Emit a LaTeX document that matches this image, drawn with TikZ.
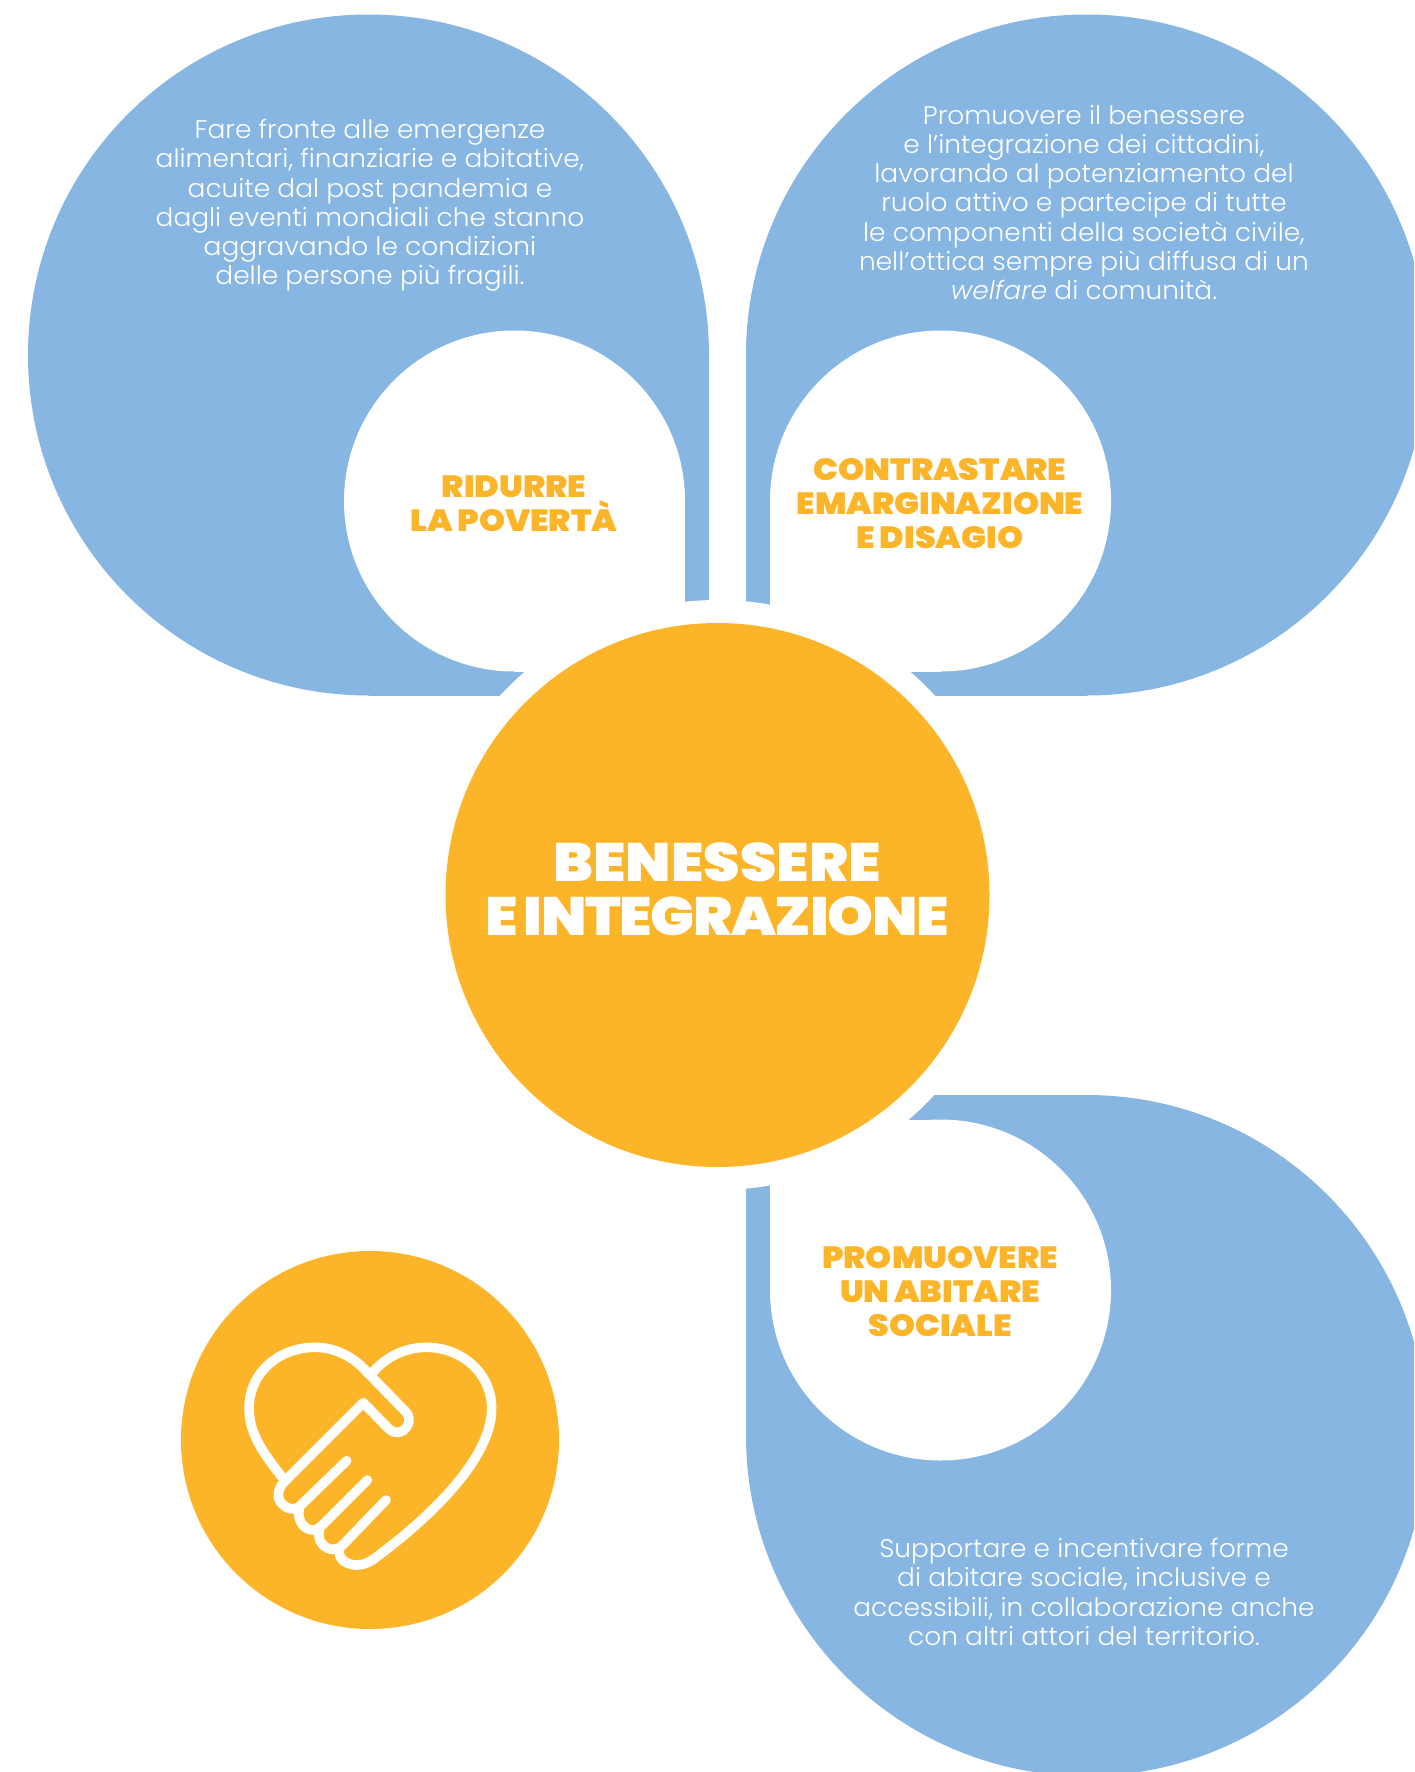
\documentclass[tikz,border=0pt]{standalone}
\usepackage{fontspec}
\setmainfont{Poppins}
\newfontfamily\bodyf[ItalicFont={Poppins Light Italic},FakeStretch=1.035]{Poppins Light}
\newfontfamily\headf[FakeStretch=1.08,WordSpace=0.8]{Poppins Black}
\newfontfamily\headtight[FakeStretch=1.08,WordSpace=0.7,LetterSpace=-2.6]{Poppins Black}
\definecolor{dropblue}{HTML}{87B6E2}
\definecolor{sunorange}{HTML}{FCB428}
\tikzset{
 bluefill/.style={fill=dropblue},
 bodytext/.style={text=white,align=center,inner sep=0pt,font=\bodyf\fontsize{12.75}{14.65}\selectfont},
 labeltext/.style={text=sunorange,align=center,inner sep=0pt,font=\headf\fontsize{15.35}{17.15}\selectfont},
 titletext/.style={text=white,align=center,inner sep=0pt,font=\headf\fontsize{27}{26.8}\selectfont},
 iconline/.style={draw=white,line width=4.8pt,line cap=round,line join=round},
}
\begin{document}
\begin{tikzpicture}[x=0.5pt,y=-0.5pt]
\useasboundingbox (0,0) rectangle (1414,1772);
\clip (0,0) rectangle (1414,1772);
\fill[white] (0,0) rectangle (1414,1772);
% blue drops
\fill[bluefill] (368.5,355) circle[radius=340.5];
\fill[bluefill] (368.5,355) rectangle (709,695.5);
\fill[bluefill] (1086.5,355) circle[radius=340.5];
\fill[bluefill] (1086.5,355) rectangle (746,695.5);
\fill[bluefill] (1086.5,1435.5) circle[radius=340.5];
\fill[bluefill] (1086.5,1435.5) rectangle (746,1095);
% white inner drops
\fill[white] (514.5,501) circle[radius=170.5];
\fill[white] (514.5,501) rectangle (685,671.5);
\fill[white] (940.5,501) circle[radius=170.5];
\fill[white] (940.5,501) rectangle (770,671.5);
\fill[white] (940.5,1290) circle[radius=170.5];
\fill[white] (940.5,1290) rectangle (770,1119.5);
% ring and centre
\fill[white] (717.5,895) circle[radius=295];
\fill[sunorange] (717.5,895) circle[radius=272];
\node[titletext] (title) at (717,889.5) {BENESSERE\\{\headtight\fontsize{27}{26.8}\selectfont E INTEGRAZIONE}};
% labels
\node[labeltext] (povert) at (514,503.5) {RIDURRE\\LA POVERTÀ};
\node[labeltext] (emarg) at (940,503.5) {CONTRASTARE\\EMARGINAZIONE\\E DISAGIO};
\node[labeltext] (abit) at (940,1291.5) {PROMUOVERE\\UN ABITARE\\SOCIALE};
% body
\node[bodytext] (t1) at (370,205.5) {Fare fronte alle emergenze\\alimentari, finanziarie e abitative,\\acuite dal post pandemia e\\dagli eventi mondiali che stanno\\aggravando le condizioni\\delle persone più fragili.};
\node[bodytext] (t2) at (1084,202.5) {Promuovere il benessere\\e l’integrazione dei cittadini,\\lavorando al potenziamento del\\ruolo attivo e partecipe di tutte\\le componenti della società civile,\\nell’ottica sempre più diffusa di un\\\textit{welfare} di comunità.};
\node[bodytext] (t3) at (1084,1592) {Supportare e incentivare forme\\di abitare sociale, inclusive e\\accessibili, in collaborazione anche\\con altri attori del territorio.};
% icon
\fill[sunorange] (370,1440) circle[radius=189];
\begin{scope}[shift={(220,1300)},x=0.16667pt,y=-0.16667pt]
\draw[iconline] (185,530) .. controls (130,460) and (87,400) .. (87,325)
  .. controls (87,220) and (175,142) .. (285,142)
  .. controls (350,142) and (405,175) .. (440,215)
  -- (557,335) .. controls (580,358) and (560,397) .. (532,397)
  .. controls (518,397) and (510,390) .. (500,380)
  -- (430,308) -- (190,548)
  .. controls (170,570) and (170,600) .. (190,615)
  .. controls (205,630) and (225,630) .. (240,618) -- (380,482);
\draw[iconline] (238,625) .. controls (230,650) and (245,690) .. (280,690)
  .. controls (290,690) and (297,685) .. (305,677) -- (442,540);
\draw[iconline] (298,690) .. controls (290,725) and (315,748) .. (340,748)
  .. controls (350,748) and (358,745) .. (365,738) -- (498,600);
\draw[iconline] (358,755) .. controls (355,780) and (385,795) .. (410,795)
  .. controls (430,795) and (445,788) .. (460,778)
  .. controls (620,660) and (815,480) .. (815,325)
  .. controls (815,220) and (725,142) .. (620,142)
  .. controls (555,142) and (500,170) .. (460,215);
\end{scope}
\end{tikzpicture}
\end{document}
